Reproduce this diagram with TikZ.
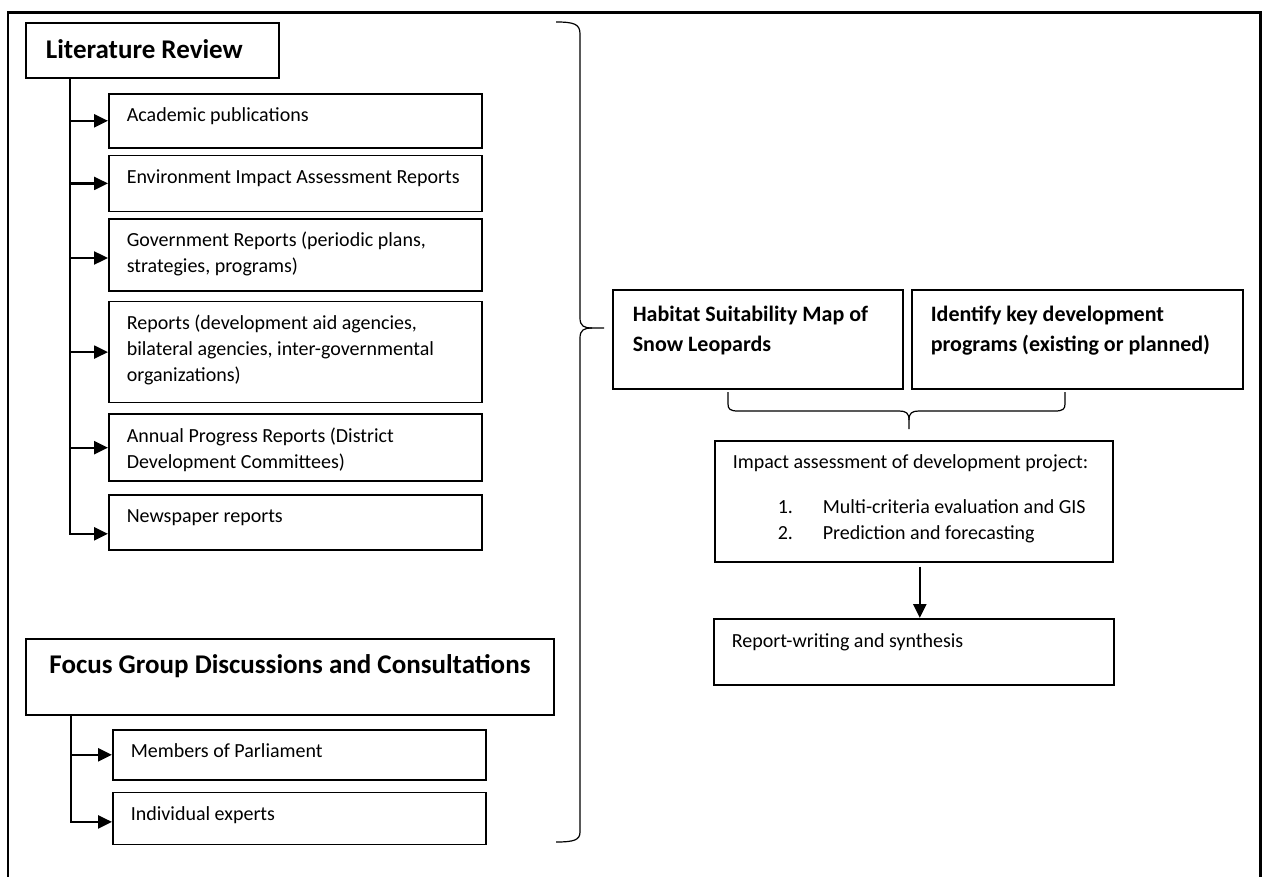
\documentclass[tikz,border=0pt]{standalone}
\usepackage{fontspec}
\setmainfont{Carlito}
\usepackage{tikz}
\usetikzlibrary{arrows.meta, positioning}
\hyphenpenalty=10000
\exhyphenpenalty=10000
\tikzstyle{heading} = [rectangle, draw=black, line width=1.8pt, anchor=north west, align=flush left, inner xsep=20pt, inner ysep=0pt, font=\fontsize{27}{33}\selectfont\bfseries]
\tikzstyle{source} = [rectangle, draw=black, line width=1.6pt, text width=337pt, align=flush left, inner xsep=18pt, inner ysep=0pt, text height=28pt, font=\fontsize{20}{26}\selectfont]
\tikzstyle{result} = [rectangle, draw=black, line width=1.6pt, anchor=north west, align=flush left, inner xsep=20pt, inner ysep=0pt, font=\fontsize{22}{30}\selectfont\bfseries]
\tikzstyle{stage} = [rectangle, draw=black, line width=1.6pt, anchor=north west, align=flush left, inner xsep=18pt, inner ysep=0pt, font=\fontsize{20}{26}\selectfont]
\tikzstyle{arrow} = [line width=2.4pt, -{Triangle[length=14pt,width=13pt]}]
\tikzstyle{bracket} = [line width=1.2pt]
\tikzstyle{frame} = [line width=2.6pt]

\begin{document}
\begin{tikzpicture}[x=1pt, y=-1pt]
	\useasboundingbox (0,0) rectangle (1265,877);
	\draw[frame] (8,877) -- (8,12.3) -- (1260.7,12.3) -- (1260.7,877);

	\node(litreview) [heading, text width=213pt, text height=36pt, text depth=19pt] at (25,22) {Literature Review};
	\node(academic) [source, anchor=north west, text depth=26pt] at (108,93) {Academic publications};
	\node(eia) [source, below=6pt of academic, text depth=28pt] {Environment Impact Assessment Reports};
	\node(government) [source, below=6pt of eia, text depth=44pt] {Government Reports (periodic plans,\\strategies, programs)};
	\node(agencies) [source, below=9pt of government, text depth=73pt] {Reports (development aid agencies,\\bilateral agencies, inter-governmental\\organizations)};
	\node(annual) [source, below=10pt of agencies, text depth=39pt] {Annual Progress Reports (District\\Development Committees)};
	\node(newspaper) [source, below=12pt of annual, text depth=27pt] {Newspaper reports};

	\node(focusgroup) [heading, minimum width=528pt, text height=35pt, text depth=41pt] at (25,638) {Focus Group Discussions and Consultations};
	\node(parliament) [source, anchor=north west, text depth=22pt] at (112,729) {Members of Parliament};
	\node(experts) [source, below=11pt of parliament, text depth=24pt] {Individual experts};

	\node(habitat) [result, text width=250pt, text height=32pt, text depth=67pt] at (612,289) {Habitat Suitability Map of\\Snow Leopards};
	\node(programs) [result, text width=293pt, inner xsep=19pt, text height=32pt, text depth=67pt] at (911,289) {Identify key development\\programs (existing or planned)};
	\node(impact) [stage, text width=362pt, text height=28pt, text depth=93pt] at (714,440) {Impact assessment of development project:\\[19pt]
		\hspace*{45pt}\makebox[45pt][l]{1.}Multi-criteria evaluation and GIS\\
		\hspace*{45pt}\makebox[45pt][l]{2.}Prediction and forecasting};
	\node(synthesis) [stage, text width=364pt, text height=29pt, text depth=37pt] at (713,618) {Report-writing and synthesis};

	\coordinate (littrunk) at ([xshift=45pt]litreview.south west);
	\coordinate (focustrunk) at ([xshift=46pt]focusgroup.south west);

	\draw[arrow] (littrunk |- academic.west) -- (academic.west);
	\draw[arrow] (littrunk |- eia.west) -- (eia.west);
	\draw[arrow] ([yshift=-3pt]littrunk |- government.west) -- ([yshift=-3pt]government.west);
	\draw[arrow] (littrunk |- agencies.west) -- (agencies.west);
	\draw[arrow] (littrunk |- annual.west) -- (annual.west);
	\draw[arrow] (littrunk) |- ([yshift=-11.5pt]newspaper.west);

	\draw[arrow] (focustrunk |- parliament.west) -- (parliament.west);
	\draw[arrow] (focustrunk) |- ([yshift=-3.5pt]experts.west);

	\draw[bracket] (556,22) .. controls (574,22) and (580,24) .. (580,34) -- (580,318) .. controls (580,326) and (584,328) .. (592,328) -- (604,328);
	\draw[bracket] (592,328) .. controls (584,328) and (580,330) .. (580,338) -- (580,832) .. controls (580,840) and (574,842) .. (556,842);

	\draw[bracket] (728,392) -- (728,404) .. controls (728,409) and (730,411) .. (738,411) -- (899,411) .. controls (906,411) and (909,413) .. (909,420) -- (909,429);
	\draw[bracket] (1065,392) -- (1065,404) .. controls (1065,409) and (1063,411) .. (1055,411) -- (919,411) .. controls (912,411) and (909,413) .. (909,420);

	\draw[arrow] ([xshift=6pt,yshift=-4pt]impact.south) -- ([xshift=6pt]synthesis.north);
\end{tikzpicture}
\end{document}
